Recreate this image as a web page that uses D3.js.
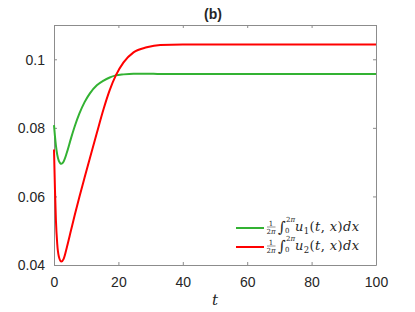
<!DOCTYPE html>
<html>
<head>
<meta charset="utf-8">
<script src="https://cdn.jsdelivr.net/npm/d3@7"></script>
<style>
  body { margin: 0; background: #fff; }
  svg { display: block; }
  .tickText { font-family: "Liberation Sans", Arial, sans-serif; font-size: 14px; fill: #262626; }
  .math { font-family: "DejaVu Serif", "Liberation Serif", serif; fill: #262626; }
</style>
</head>
<body>
<div id="chart"></div>
<script>
// data
const tValues  = [0, 0.3, 0.6, 1, 1.5, 2.3, 3, 4, 5.3, 6.5, 7.9, 9.5, 11.1, 13.3, 15.4, 17.3, 19.2, 21.6, 24.7, 28.8, 33, 40, 50, 60, 70, 80, 90, 100]
const u1Values = [0.0808, 0.0775, 0.0748, 0.0722, 0.0704, 0.0695, 0.0702, 0.0728, 0.0770, 0.0806, 0.0842, 0.0875, 0.0900, 0.0924, 0.0938, 0.0947, 0.0953, 0.0956, 0.0958, 0.0958, 0.0957, 0.0957, 0.0957, 0.0957, 0.0957, 0.0957, 0.0957, 0.0957]
const u2Values = [0.0737, 0.0620, 0.0530, 0.0462, 0.0425, 0.0410, 0.0418, 0.0452, 0.0502, 0.0548, 0.0599, 0.0655, 0.0710, 0.0785, 0.0855, 0.0910, 0.0953, 0.0991, 0.1020, 0.1035, 0.1042, 0.1043, 0.1043, 0.1043, 0.1043, 0.1043, 0.1043, 0.1043]
const xTicks = [0, 20, 40, 60, 80, 100]
const yTicks = [0.04, 0.06, 0.08, 0.1]
const seriesNames = ["u1", "u2"]

const dimensions = {
  width: 415,
  height: 312,
  margin: { top: 25, right: 39, bottom: 47, left: 54 },
}
dimensions.boundedWidth = dimensions.width - dimensions.margin.left - dimensions.margin.right
dimensions.boundedHeight = dimensions.height - dimensions.margin.top - dimensions.margin.bottom

const axisGray = "#8c8c8c"
const colors = { u1: "#33b233", u2: "#ff0000" }

function drawChart() {
  const svg = d3.select("#chart").append("svg")
    .attr("width", dimensions.width)
    .attr("height", dimensions.height)

  const g = svg.append("g")
    .attr("transform", "translate(" + dimensions.margin.left + "," + dimensions.margin.top + ")")

  const x = d3.scaleLinear().domain([0, 100]).range([0, dimensions.boundedWidth])
  const y = d3.scaleLinear().domain([0.04, 0.11]).range([dimensions.boundedHeight, 0])

  // axes box with inward ticks
  const bottomAxis = g.append("g")
    .attr("transform", "translate(0," + dimensions.boundedHeight + ")")
    .call(d3.axisBottom(x).tickValues(xTicks).tickSizeInner(-3).tickSizeOuter(0).tickPadding(9).tickFormat(d3.format("d")))
  const topAxis = g.append("g")
    .call(d3.axisTop(x).tickValues(xTicks).tickSizeInner(-3).tickSizeOuter(0).tickFormat(""))
  const leftAxis = g.append("g")
    .call(d3.axisLeft(y).tickValues(yTicks).tickSizeInner(-3).tickSizeOuter(0).tickPadding(9).tickFormat(d => d === 0.1 ? "0.1" : d3.format(".2f")(d)))
  const rightAxis = g.append("g")
    .attr("transform", "translate(" + dimensions.boundedWidth + ",0)")
    .call(d3.axisRight(y).tickValues(yTicks).tickSizeInner(-3).tickSizeOuter(0).tickFormat(""))

  ;[bottomAxis, topAxis, leftAxis, rightAxis].forEach(a => {
    a.select(".domain").attr("stroke", axisGray).attr("stroke-width", 1)
    a.selectAll(".tick line").attr("stroke", axisGray)
    a.selectAll(".tick text").attr("class", "tickText").attr("fill", "#262626")
  })
  leftAxis.selectAll(".tick text").attr("dy", "0.35em")
  bottomAxis.selectAll(".tick text").attr("dy", "0.9em")

  // lines
  const series = {
    u1: tValues.map((t, i) => ({ t: t, v: u1Values[i] })),
    u2: tValues.map((t, i) => ({ t: t, v: u2Values[i] })),
  }
  const line = d3.line()
    .x(d => x(d.t))
    .y(d => y(d.v))
    .curve(d3.curveMonotoneX)

  seriesNames.forEach(name => {
    g.append("path")
      .datum(series[name])
      .attr("fill", "none")
      .attr("stroke", colors[name])
      .attr("stroke-width", 2)
      .attr("d", line)
  })

  // title and x label
  svg.append("text")
    .attr("x", 213).attr("y", 19)
    .attr("text-anchor", "middle")
    .style("font-family", "Liberation Sans, Arial, sans-serif")
    .style("font-weight", "bold")
    .style("font-size", "14px")
    .attr("fill", "#262626")
    .text("(b)")

  svg.append("text")
    .attr("class", "math")
    .attr("x", 215).attr("y", 305)
    .attr("text-anchor", "middle")
    .style("font-style", "italic")
    .style("font-size", "15px")
    .text("t")

  // legend
  const legend = svg.append("g")
  seriesNames.forEach((name, i) => {
    const cy = 228 + i * 19
    const row = legend.append("g").attr("transform", "translate(0," + cy + ")")
    row.append("line")
      .attr("x1", 236).attr("x2", 264)
      .attr("stroke", colors[name]).attr("stroke-width", 2)
    // fraction 1 / 2π
    row.append("text").attr("class", "math").attr("x", 271).attr("y", -2.5)
      .attr("text-anchor", "middle").style("font-size", "7px").text("1")
    row.append("line").attr("x1", 267).attr("x2", 275.5).attr("y1", -1).attr("y2", -1)
      .attr("stroke", "#262626").attr("stroke-width", 0.5)
    row.append("text").attr("class", "math").attr("x", 271).attr("y", 6)
      .attr("text-anchor", "middle").style("font-size", "7px")
      .html("2<tspan font-style='italic'>π</tspan>")
    // integral with limits
    row.append("text").attr("class", "math").attr("x", 278).attr("y", 4)
      .style("font-size", "15px").text("∫")
    row.append("text").attr("class", "math").attr("x", 286).attr("y", -6)
      .style("font-size", "7px").html("2<tspan font-style='italic'>π</tspan>")
    row.append("text").attr("class", "math").attr("x", 285).attr("y", 5)
      .style("font-size", "7px").text("0")
    const expr = row.append("text").attr("class", "math").attr("x", 295).attr("y", 3)
      .style("font-size", "13px").style("letter-spacing", "0.4px")
    expr.append("tspan").style("font-style", "italic").text("u")
    expr.append("tspan").attr("dy", 2.5).style("font-size", "8.5px").text(i + 1)
    expr.append("tspan").attr("dy", -2.5).text("(")
    expr.append("tspan").style("font-style", "italic").text("t")
    expr.append("tspan").text(", ")
    expr.append("tspan").style("font-style", "italic").text("x")
    expr.append("tspan").text(")")
    expr.append("tspan").style("font-style", "italic").text("dx")
  })
}

drawChart()
</script>
</body>
</html>
